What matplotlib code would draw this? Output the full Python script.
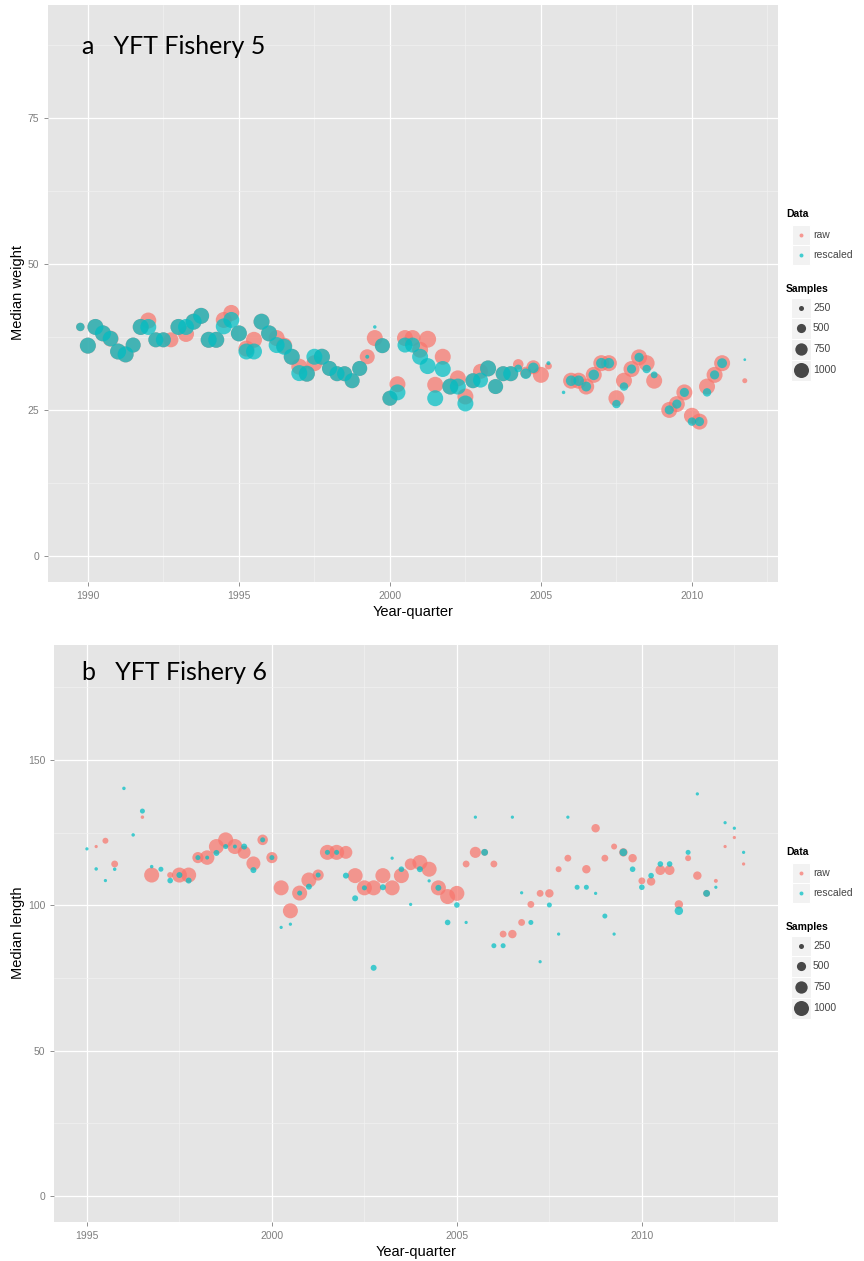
import numpy as np
import matplotlib
matplotlib.use("Agg")
import matplotlib.pyplot as plt
from matplotlib.patches import Rectangle

nan = np.nan

# ---------------- Fishery 5: median weight by year-quarter ----------------
a_quarters = np.arange(1989.75, 2011.76, 0.25)
a_raw = [
    39.2,
    36.0, 39.2, 38.1, 37.2,
    35.0, 34.5, 36.1, 39.2,
    40.3, 37.0, 37.0, 37.0,
    39.2, 38.0, 40.1, 41.1,
    37.0, 37.0, 40.4, 41.6,
    38.1, 35.5, 37.0, 40.1,
    38.1, 37.3, 36.0, 34.1,
    32.4, 31.2, 33.0, 34.1,
    32.1, 31.2, 31.2, 30.0,
    32.1, 34.1, 37.3, 36.0,
    27.0, 29.4, 37.3, 37.3,
    35.3, 37.1, 29.3, 34.1,
    29.0, 30.4, 27.3, 30.0,
    31.6, 32.1, 29.0, 31.2,
    31.2, 32.8, 31.4, 32.3,
    31.0, 32.5, nan, nan,
    30.0, 30.0, 29.0, 31.0,
    33.0, 33.0, 27.0, 30.0,
    32.0, 34.0, 33.0, 30.0,
    nan, 25.0, 26.0, 28.0,
    24.0, 23.0, 29.0, 31.0,
    33.0, nan, nan, 30.0,
]
a_raw_n = [
    450,
    1100, 1100, 1100, 1100,
    1100, 1100, 1000, 1100,
    1100, 1000, 1000, 1000,
    1100, 1100, 1100, 1100,
    1100, 1100, 1100, 1100,
    1100, 1100, 1100, 1100,
    1100, 1100, 1100, 1100,
    1100, 1100, 1100, 1100,
    1000, 1000, 1000, 1000,
    1000, 1000, 1100, 1000,
    1000, 1100, 1100, 1100,
    1100, 1200, 1100, 1100,
    1100, 1100, 1100, 1000,
    1000, 1100, 1000, 1000,
    1000, 600, 700, 900,
    1100, 350, nan, nan,
    1100, 1100, 1100, 1100,
    1100, 1100, 1100, 1100,
    1100, 1100, 1100, 1100,
    nan, 1100, 1100, 1100,
    1100, 1100, 1100, 1100,
    1100, nan, nan, 250,
]
a_res = [
    39.2,
    36.0, 39.2, 38.1, 37.2,
    35.0, 34.5, 36.1, 39.2,
    39.2, 37.0, 37.0, nan,
    39.2, 39.2, 40.1, 41.1,
    37.0, 37.0, 39.3, 40.4,
    38.1, 35.0, 35.0, 40.1,
    38.1, 36.1, 35.8, 34.1,
    31.3, 31.2, 34.1, 34.1,
    32.1, 31.2, 31.2, 30.0,
    32.1, 34.1, 39.2, 36.0,
    27.0, 28.0, 36.1, 36.1,
    34.1, 32.5, 27.0, 32.0,
    29.0, 29.0, 26.1, 30.0,
    30.1, 32.1, 29.0, 31.2,
    31.2, 32.1, 31.2, 32.2,
    nan, 33.0, nan, 28.0,
    30.0, 30.0, 29.0, 31.0,
    33.0, 33.0, 26.0, 29.0,
    32.0, 34.0, 32.0, 31.0,
    nan, 25.0, 26.0, 28.0,
    23.0, 23.0, 28.0, 31.0,
    33.0, nan, nan, 33.6,
]
a_res_n = [
    450,
    1100, 1100, 1100, 1050,
    1100, 1100, 1000, 1100,
    1100, 1000, 1000, nan,
    1100, 1100, 1100, 1100,
    1100, 1100, 1100, 1100,
    1100, 1100, 1100, 1100,
    1100, 1100, 1100, 1100,
    1100, 1100, 1100, 1100,
    1000, 1000, 1000, 1000,
    1000, 200, 180, 1000,
    1000, 1100, 1000, 1000,
    1100, 1100, 1100, 1100,
    1100, 1100, 1100, 1000,
    1000, 1100, 1000, 1000,
    1000, 400, 600, 600,
    nan, 200, nan, 180,
    600, 600, 550, 600,
    600, 600, 450, 450,
    500, 500, 450, 350,
    nan, 500, 500, 500,
    450, 500, 450, 500,
    550, nan, nan, 150,
]

# ---------------- Fishery 6: median length by year-quarter ----------------
b_quarters = np.arange(1995.0, 2012.76, 0.25)
b_raw = [
    nan, 120.2, 122.2, 114.2,
    nan, nan, 130.3, 110.4,
    nan, 110.4, 110.4, 110.4,
    116.4, 116.4, 120.2, 122.5,
    120.2, 118.2, 114.4, 122.5,
    116.4, 106.0, 98.1, 104.2,
    108.7, 110.4, 118.2, 118.2,
    118.2, 110.2, 106.0, 106.0,
    110.2, 106.0, 110.2, 114.1,
    114.7, 112.4, 106.0, 103.0,
    104.1, 114.2, 118.2, 118.2,
    114.2, 90.1, 90.1, 94.1,
    100.3, 104.1, 104.1, 112.4,
    116.2, nan, 112.4, 126.5,
    116.2, 120.2, 118.2, 116.2,
    108.4, 108.2, 112.1, 112.1,
    100.3, 116.2, 110.2, 104.1,
    108.4, 120.2, 123.3, 114.2,
]
b_raw_n = [
    nan, 170, 300, 350,
    nan, nan, 180, 1000,
    nan, 300, 1000, 1000,
    650, 950, 1000, 1000,
    1000, 800, 900, 600,
    650, 1000, 1000, 1000,
    1000, 650, 1000, 1000,
    800, 1000, 1000, 1000,
    1000, 1000, 1000, 700,
    1000, 1000, 1000, 1000,
    1000, 350, 650, 350,
    350, 350, 450, 350,
    350, 350, 450, 300,
    350, nan, 450, 450,
    350, 300, 450, 450,
    350, 450, 550, 550,
    450, 300, 450, 350,
    200, 170, 170, 170,
]
b_res = [
    119.4, 112.5, 108.5, 112.4,
    140.2, 124.2, 132.4, 113.3,
    112.4, 108.5, 110.4, 108.5,
    116.4, 116.4, 118.0, 120.2,
    120.2, 120.2, 112.1, 122.5,
    116.4, 92.4, 93.5, 104.2,
    106.4, 110.4, 118.2, 118.2,
    110.2, 102.4, 106.0, 78.5,
    106.2, 116.2, 112.4, 100.3,
    112.4, 108.4, 106.0, 94.1,
    100.1, 94.1, 130.3, 118.2,
    86.1, 86.1, 130.3, 104.3,
    94.1, 80.6, 100.1, 90.1,
    130.3, 106.2, 106.2, 104.1,
    96.3, 90.1, 118.2, 112.4,
    106.2, 110.2, 114.2, 114.2,
    98.1, 118.2, 138.3, 104.1,
    106.2, 128.4, 126.5, 118.2,
]
b_res_n = [
    170, 180, 170, 180,
    180, 180, 250, 180,
    250, 280, 300, 300,
    250, 200, 300, 250,
    200, 300, 300, 250,
    250, 170, 170, 250,
    300, 250, 250, 250,
    300, 300, 250, 300,
    300, 170, 280, 170,
    300, 170, 300, 280,
    280, 170, 170, 350,
    250, 250, 170, 170,
    250, 170, 250, 170,
    170, 250, 250, 170,
    250, 170, 400, 280,
    280, 280, 280, 280,
    450, 250, 170, 350,
    170, 170, 170, 170,
]

series_labels = ["raw", "rescaled"]
size_breaks = [250, 500, 750, 1000]

RAW_COL = "#F8766D"
RES_COL = "#00BFC4"
ALPHA = 0.72
TEXT_GREY = "#7F7F7F"
FONT = ["Liberation Sans", "DejaVu Sans"]
plt.rcParams["font.family"] = FONT

W, H = 864, 1261
fig = plt.figure(figsize=(W / 100, H / 100), dpi=100)


def px_axes(left, top, right, bottom):
    return fig.add_axes([left / W, 1 - bottom / H, (right - left) / W, (bottom - top) / H])


def marker_area(n):
    """Point area (pt^2) with diameter growing with sqrt(sample count)."""
    n = np.asarray(n, dtype=float)
    d_px = np.clip(0.633 * np.sqrt(n) - 5.0, 2.0, None)
    return (d_px * 0.72) ** 2


def draw_panel(ax, t, raw, raw_n, res, res_n, xlim, ylim, xmaj, xmin, ymaj, ymin):
    ax.set_facecolor("#E5E5E5")
    for s in ax.spines.values():
        s.set_visible(False)
    ax.set_xlim(*xlim)
    ax.set_ylim(*ylim)
    ax.set_xticks(xmaj)
    ax.set_xticks(xmin, minor=True)
    ax.set_yticks(ymaj)
    ax.set_yticks(ymin, minor=True)
    ax.grid(True, which="major", color="white", lw=0.9)
    ax.grid(True, which="minor", color="#F2F2F2", lw=0.45)
    ax.set_axisbelow(True)
    ax.tick_params(which="major", length=3.2, width=0.6, color=TEXT_GREY,
                   labelcolor=TEXT_GREY, labelsize=7.5, pad=3)
    ax.tick_params(which="minor", length=0)
    t = np.asarray(t)
    raw = np.asarray(raw, float)
    res = np.asarray(res, float)
    raw_n = np.asarray(raw_n, float)
    res_n = np.asarray(res_n, float)
    m = ~np.isnan(raw)
    ax.scatter(t[m], raw[m], s=marker_area(raw_n[m]), color=RAW_COL,
               alpha=ALPHA, linewidths=0, zorder=3)
    m = ~np.isnan(res)
    ax.scatter(t[m], res[m], s=marker_area(res_n[m]), color=RES_COL,
               alpha=ALPHA, linewidths=0, zorder=4)


# Panel a
ax_a = px_axes(48, 5, 778, 582)
draw_panel(ax_a, a_quarters, a_raw, a_raw_n, a_res, a_res_n,
           (1988.68, 2012.85), (-4.45, 94.3),
           [1990, 1995, 2000, 2005, 2010], [1992.5, 1997.5, 2002.5, 2007.5, 2012.5],
           [0, 25, 50, 75], [12.5, 37.5, 62.5, 87.5])

# Panel b
ax_b = px_axes(54, 645, 778, 1222)
draw_panel(ax_b, b_quarters, b_raw, b_raw_n, b_res, b_res_n,
           (1994.11, 2013.68), (-8.9, 189.5),
           [1995, 2000, 2005, 2010], [1997.5, 2002.5, 2007.5, 2012.5],
           [0, 50, 100, 150], [25, 75, 125, 175])

# Overlay in pixel coordinates for titles and legends
ov = fig.add_axes([0, 0, 1, 1], zorder=10)
ov.set_xlim(0, W)
ov.set_ylim(H, 0)
ov.axis("off")

panel_font = ["Lato", "Open Sans", "DejaVu Sans"]
ov.text(82, 46, "a   YFT Fishery 5", fontsize=18, family=panel_font, va="center", ha="left")
ov.text(82, 672, "b   YFT Fishery 6", fontsize=18, family=panel_font, va="center", ha="left")

ov.text(413, 612, "Year-quarter", fontsize=10.5, ha="center", va="center")
ov.text(416, 1252, "Year-quarter", fontsize=10.5, ha="center", va="center")
ov.text(18, 293, "Median weight", fontsize=10.5, ha="center", va="center", rotation=90)
ov.text(18, 933, "Median length", fontsize=10.5, ha="center", va="center", rotation=90)


def draw_legend(y0):
    lx = 786
    kx = 801
    tx = 813
    ov.text(lx, y0, "Data", fontsize=7.5, fontweight="bold", va="center", ha="left")
    for i, (lab, col) in enumerate(zip(series_labels, [RAW_COL, RES_COL])):
        y = y0 + 21 + 20 * i
        ov.add_patch(Rectangle((kx - 9, y - 10), 18, 20, facecolor="#F2F2F2",
                               edgecolor="white", lw=0.8))
        ov.scatter([kx], [y], s=marker_area(200), color=col, alpha=ALPHA, linewidths=0)
        ov.text(tx, y, lab, fontsize=7.5, color="#444444", va="center", ha="left")
    ov.text(lx, y0 + 75, "Samples", fontsize=7.5, fontweight="bold", va="center", ha="left")
    ys = [y0 + 94, y0 + 114, y0 + 135, y0 + 156]
    for y, nb in zip(ys, size_breaks):
        ov.add_patch(Rectangle((kx - 10, y - 10.5), 20, 21, facecolor="#F2F2F2",
                               edgecolor="white", lw=0.8))
        ov.scatter([kx], [y], s=marker_area(nb), color="black", alpha=0.7, linewidths=0)
        ov.text(tx, y, str(nb), fontsize=7.5, color="#444444", va="center", ha="left")


draw_legend(214)
draw_legend(852)

fig.savefig("out.png", dpi=100)
